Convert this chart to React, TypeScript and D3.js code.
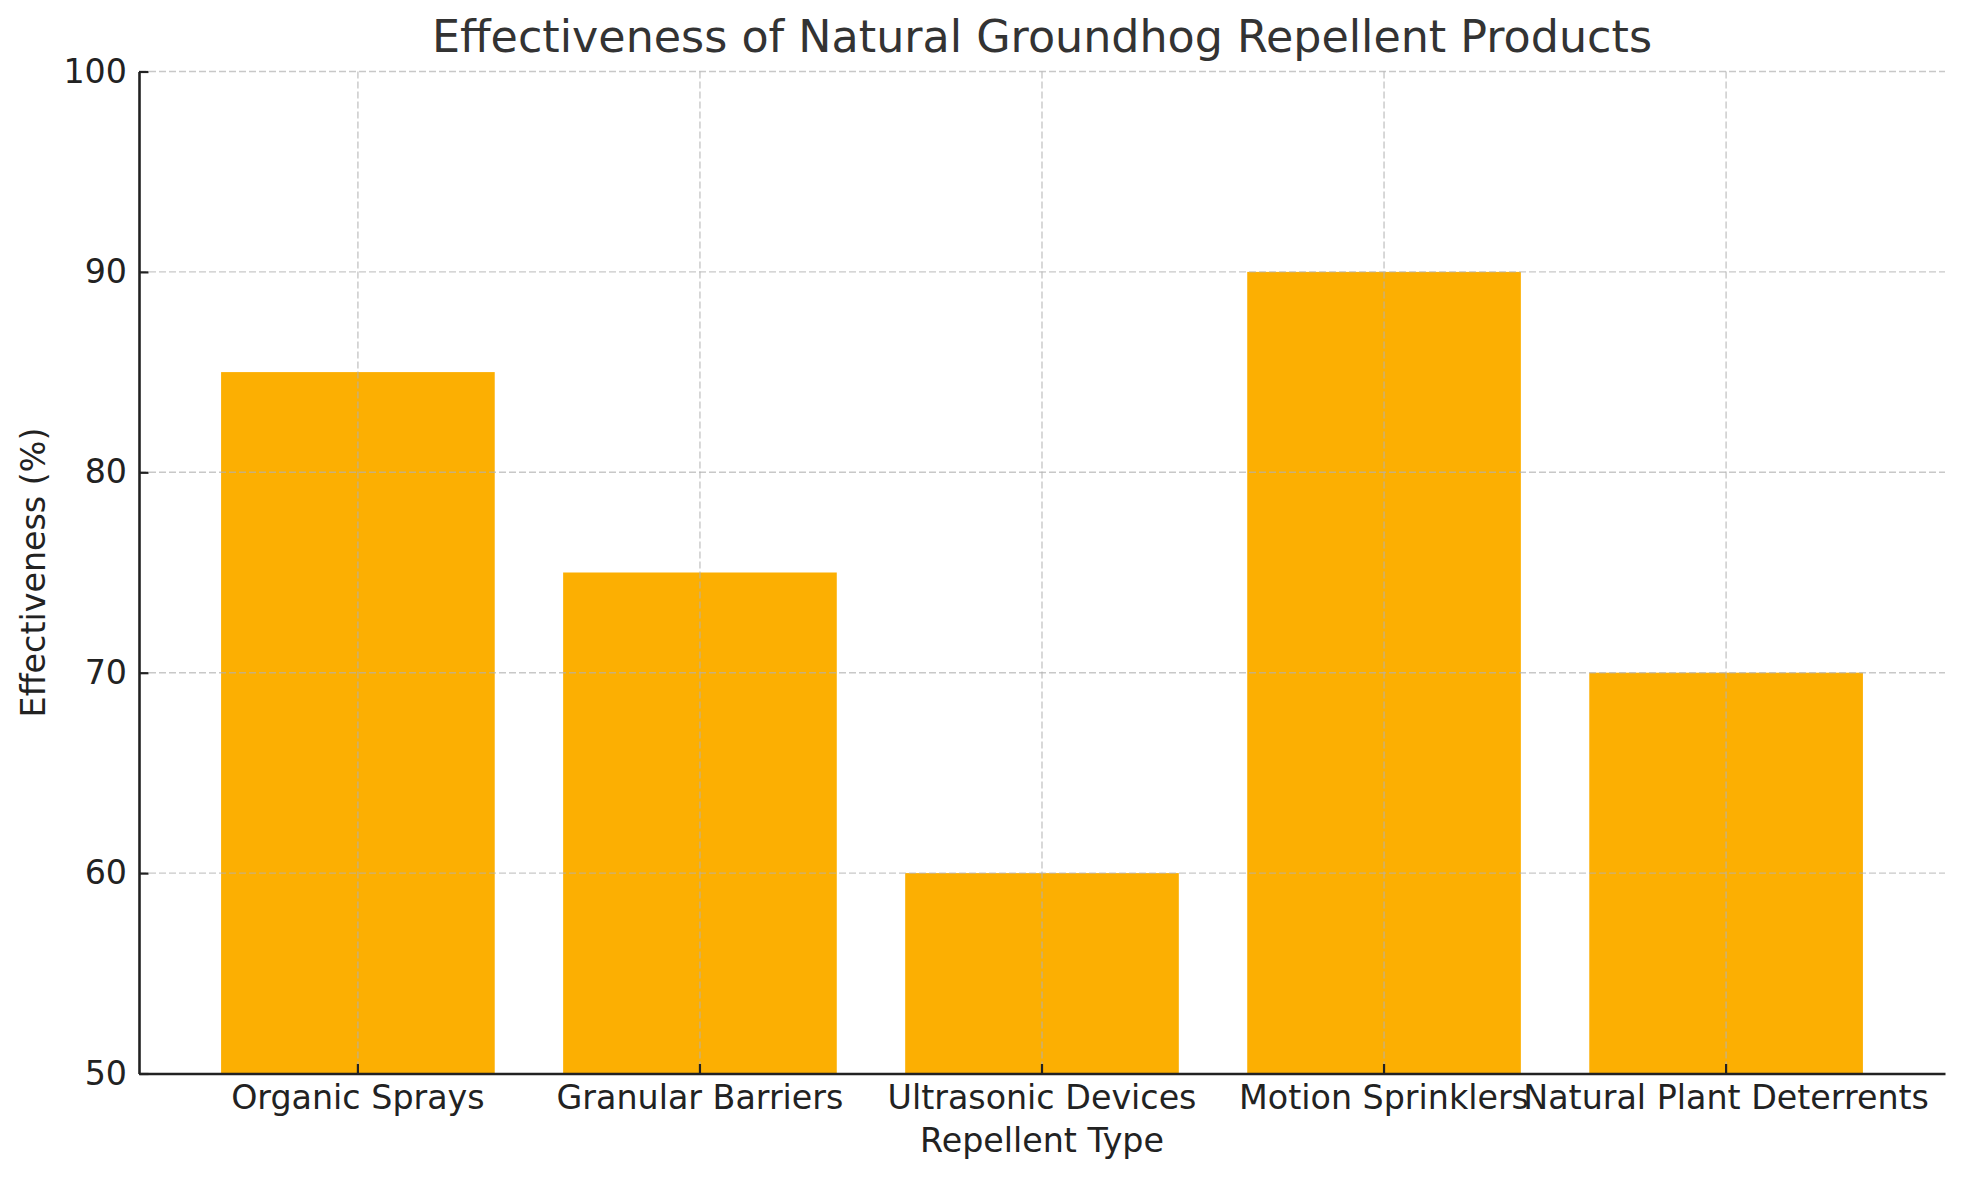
import * as d3 from "d3";
import React, { useEffect, useRef } from "react";

const categories: string[] = [
  "Organic Sprays",
  "Granular Barriers",
  "Ultrasonic Devices",
  "Motion Sprinklers",
  "Natural Plant Deterrents",
];
const effectiveness: number[] = [85, 75, 60, 90, 70];
const yTicks: number[] = [50, 60, 70, 80, 90, 100];

const title = "Effectiveness of Natural Groundhog Repellent Products";
const xLabel = "Repellent Type";
const yLabel = "Effectiveness (%)";

const App: React.FC = () => {
  const svgRef = useRef<SVGSVGElement | null>(null);

  useEffect(() => {
    if (!svgRef.current) return;

    const width = 1964;
    const height = 1180;
    const marginTop = 71.5;
    const marginRight = 19;
    const marginBottom = 106.5;
    const marginLeft = 139;
    const font = "DejaVu Sans, sans-serif";
    const labelSize = 33.3;

    const x = d3
      .scaleBand<string>()
      .domain(categories)
      .range([marginLeft, width - marginRight])
      .paddingInner(0.2)
      .paddingOuter(0.24);

    const y = d3
      .scaleLinear()
      .domain([50, 100])
      .range([height - marginBottom, marginTop]);

    const svg = d3.select(svgRef.current);
    svg.selectAll("*").remove();

    svg.append("rect").attr("width", width).attr("height", height).attr("fill", "#fff");

    // bars
    svg
      .append("g")
      .attr("fill", "#FCAF02")
      .selectAll("rect")
      .data(effectiveness)
      .join("rect")
      .attr("x", (_, i) => x(categories[i])!)
      .attr("width", x.bandwidth())
      .attr("y", (d) => y(d))
      .attr("height", (d) => y(50) - y(d));

    // grid, drawn over the bars
    const grid = svg
      .append("g")
      .attr("stroke", "#b0b0b0")
      .attr("stroke-opacity", 0.7)
      .attr("stroke-width", 1.4)
      .attr("stroke-dasharray", "7,3");
    grid
      .selectAll("line.h")
      .data(yTicks.slice(1))
      .join("line")
      .attr("class", "h")
      .attr("x1", marginLeft)
      .attr("x2", width - marginRight)
      .attr("y1", (d) => y(d))
      .attr("y2", (d) => y(d));
    grid
      .selectAll("line.v")
      .data(categories)
      .join("line")
      .attr("class", "v")
      .attr("x1", (d) => x(d)! + x.bandwidth() / 2)
      .attr("x2", (d) => x(d)! + x.bandwidth() / 2)
      .attr("y1", marginTop)
      .attr("y2", height - marginBottom);

    // axes (ticks point inward)
    const xAxis = svg
      .append("g")
      .attr("transform", `translate(0,${height - marginBottom})`)
      .call(d3.axisBottom(x).tickSize(9.5).tickSizeOuter(0));
    xAxis.select(".domain").attr("stroke", "#222").attr("stroke-width", 2.6);
    xAxis.selectAll(".tick line").attr("stroke", "#222").attr("stroke-width", 2.2).attr("y2", -9.5);
    xAxis
      .selectAll(".tick text")
      .attr("y", 35.5)
      .attr("dy", 0)
      .attr("font-family", font)
      .attr("font-size", labelSize)
      .attr("fill", "#222");

    const yAxis = svg
      .append("g")
      .attr("transform", `translate(${marginLeft},0)`)
      .call(d3.axisLeft(y).tickValues(yTicks).tickSize(9.5).tickSizeOuter(0));
    yAxis.select(".domain").attr("stroke", "#222").attr("stroke-width", 2.6);
    yAxis.selectAll(".tick line").attr("stroke", "#222").attr("stroke-width", 2.2).attr("x2", 9.5);
    yAxis
      .selectAll(".tick text")
      .attr("x", -12)
      .attr("font-family", font)
      .attr("font-size", labelSize)
      .attr("fill", "#222");

    // labels
    const centerX = x.range()[0] + (x.range()[1] - x.range()[0]) / 2;
    svg
      .append("text")
      .attr("x", centerX)
      .attr("y", 1152)
      .attr("text-anchor", "middle")
      .attr("font-family", font)
      .attr("font-size", labelSize)
      .attr("fill", "#222")
      .text(xLabel);

    svg
      .append("text")
      .attr("transform", `translate(45,${(marginTop + height - marginBottom) / 2}) rotate(-90)`)
      .attr("text-anchor", "middle")
      .attr("font-family", font)
      .attr("font-size", labelSize)
      .attr("fill", "#222")
      .text(yLabel);

    svg
      .append("text")
      .attr("x", centerX)
      .attr("y", 52)
      .attr("text-anchor", "middle")
      .attr("font-family", font)
      .attr("font-size", 44.4)
      .attr("fill", "#333")
      .text(title);
  }, []);

  return (
    <svg
      ref={svgRef}
      width={1964}
      height={1180}
      style={{ position: "absolute", left: 0, top: 0, display: "block" }}
    />
  );
};

export default App;
